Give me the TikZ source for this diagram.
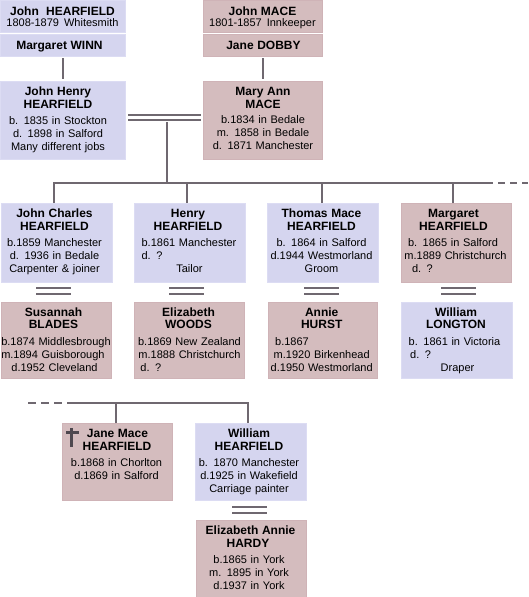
\documentclass[tikz,border=0pt]{standalone}
\usepackage{fontspec}
\setmainfont{Liberation Sans}
\usepackage{calc}
\usetikzlibrary{calc}
\definecolor{mblue}{HTML}{D5D5EF}
\definecolor{mpink}{HTML}{D4BCBE}
\definecolor{mblueedge}{HTML}{DCDCF3}
\definecolor{mpinkedge}{HTML}{CFB3B7}
\definecolor{lnc}{HTML}{6F6870}
\definecolor{crossc}{HTML}{4E484F}
\newcommand\nm[1]{{\fontsize{12}{13}\selectfont\bfseries #1}}
\newcommand\sh[2]{\hspace*{#1}#2\hspace*{-#1}}
\newcommand\lal[3][0pt]{\makebox[\widthof{#2}][l]{\hspace*{#1}#3}}
\tikzset{
  boxbase/.style={anchor=north west, inner sep=0pt, outer sep=0pt, line width=1pt},
  bbox/.style={boxbase, fill=mblue, draw=mblueedge},
  pbox/.style={boxbase, fill=mpink, draw=mpinkedge},
  txt/.style={anchor=base, inner sep=0pt, outer sep=0pt, align=center, text width=130pt,
    font=\fontsize{11}{13}\selectfont},
  conn/.style={draw=lnc, line width=2pt},
  marr/.style={draw=lnc, line width=2pt, double=white, double distance=3pt},
  marrb/.style={marr, double distance=3.7pt},
}
\begin{document}
\begin{tikzpicture}[x=1pt,y=-1pt]
\useasboundingbox (0,0) rectangle (528,597);
% boxes
\node[bbox, minimum width=125pt, minimum height=32pt] (a) at (0,0) {};
\node[bbox, minimum width=125pt, minimum height=22pt] (b) at (0,34) {};
\node[pbox, minimum width=119pt, minimum height=32pt] (c) at (203,0) {};
\node[pbox, minimum width=119pt, minimum height=22pt] (d) at (203,34) {};
\node[bbox, minimum width=125pt, minimum height=78pt] (e) at (0,81) {};
\node[pbox, minimum width=119pt, minimum height=78pt] (f) at (203,81) {};
\node[bbox, minimum width=111pt, minimum height=79pt] (g) at (1,203) {};
\node[bbox, minimum width=111pt, minimum height=79pt] (h) at (134,203) {};
\node[bbox, minimum width=111pt, minimum height=79pt] (i) at (267,203) {};
\node[pbox, minimum width=110pt, minimum height=79pt] (j) at (401,203) {};
\node[pbox, minimum width=110pt, minimum height=76pt] (k) at (1,302) {};
\node[pbox, minimum width=110pt, minimum height=76pt] (l) at (134,302) {};
\node[pbox, minimum width=109pt, minimum height=76pt] (m) at (268,302) {};
\node[bbox, minimum width=111pt, minimum height=76pt] (n) at (401,302) {};
\node[pbox, minimum width=110pt, minimum height=77pt] (o) at (62,423) {};
\node[bbox, minimum width=111pt, minimum height=77pt] (p) at (195,423) {};
\node[pbox, minimum width=110pt, minimum height=77pt] (q) at (196,520) {};
% texts
\node[txt] (a-t) at (62.5,15) {\nm{John\ \ HEARFIELD}\\[-1pt]1808-1879\hspace{5pt}Whitesmith};
\node[txt] (b-t) at (59.5,49.3) {\nm{Margaret WINN}};
\node[txt] (c-t) at (262.5,15) {\nm{John MACE}\\[-1pt]1801-1857\hspace{5pt}Innkeeper};
\node[txt] (d-t) at (263.5,49.3) {\nm{Jane DOBBY}};
\node[txt] (e-t) at (58,95) {\nm{John Henry}\\\nm{HEARFIELD}\\[3.5pt]b. 1835 in Stockton\\d. 1898 in Salford\\Many different jobs};
\node[txt] (f-t) at (263,95) {\nm{Mary Ann}\\\nm{MACE}\\[2pt]b.1834 in Bedale\\m. 1858 in Bedale\\d. 1871 Manchester};
\node[txt] (g-t) at (54.5,217) {\nm{John Charles}\\\nm{HEARFIELD}\\[3.5pt]b.1859 Manchester\\d. 1936 in Bedale\\Carpenter \& joiner};
\node[txt] (h-t) at (189,217) {\sh{-2pt}{\nm{Henry}}\\\sh{-2pt}{\nm{HEARFIELD}}\\[3.5pt]b.1861 Manchester\\\lal{b.1861 Manchester}{d. ?}\\\sh{1pt}{Tailor}};
\node[txt] (i-t) at (321.5,217) {\nm{Thomas Mace}\\\nm{HEARFIELD}\\[3.5pt]b. 1864 in Salford\\d.1944 Westmorland\\Groom};
\node[txt] (j-t) at (454,217) {\sh{-1pt}{\nm{Margaret}}\\\sh{-1pt}{\nm{HEARFIELD}}\\[3.5pt]\sh{-2pt}{b. 1865 in Salford}\\\sh{3pt}{m.1889 Christchurch}\\\lal[3pt]{b. 1865 in Salford}{d. ?}};
\node[txt] (k-t) at (56,316) {\sh{-5pt}{\nm{Susannah}}\\[-0.5pt]\sh{-5pt}{\nm{BLADES}}\\[3.5pt]b.1874 Middlesbrough\\\lal{b.1874 Middlesbrough}{m.1894 Guisborough}\\\sh{-3pt}{d.1952 Cleveland}};
\node[txt] (l-t) at (189.5,316) {\sh{-2pt}{\nm{Elizabeth}}\\[-0.5pt]\sh{-2pt}{\nm{WOODS}}\\[3.5pt]b.1869 New Zealand\\m.1888 Christchurch\\\lal[2pt]{m.1888 Christchurch}{d. ?}};
\node[txt] (m-t) at (321.7,316) {\nm{Annie}\\[-0.5pt]\nm{HURST}\\[3.5pt]\lal[1.5pt]{m.1920 Birkenhead}{b.1867}\\m.1920 Birkenhead\\d.1950 Westmorland};
\node[txt] (n-t) at (456,316) {\nm{William}\\[-0.5pt]\nm{LONGTON}\\[3.5pt]\sh{-3pt}{b. 1861 in Victoria}\\\lal{b. 1861 in Victoria}{d. ?}\\\sh{3pt}{Draper}};
\node[txt] (o-t) at (116.5,437) {\sh{2pt}{\nm{Jane Mace}}\\\sh{1pt}{\nm{HEARFIELD}}\\[3pt]b.1868 in Chorlton\\d.1869 in Salford};
\node[txt] (p-t) at (249,437) {\nm{William}\\\nm{HEARFIELD}\\[3pt]b. 1870 Manchester\\d.1925 in Wakefield\\Carriage painter};
\node[txt] (q-t) at (249,534) {\sh{3pt}{\nm{Elizabeth Annie}}\\\sh{-2pt}{\nm{HARDY}}\\[3.5pt]b.1865 in York\\m. 1895 in York\\d.1937 in York};
% cross
\fill[crossc] (70.2,427.7) rectangle (73.2,446.7);
\fill[crossc] (65.7,431) rectangle (79.3,433.8);
% parents to children
\draw[conn, shorten <=2pt, shorten >=2pt] (b) -- (e);
\draw[conn, shorten <=2pt, shorten >=2pt] (d) -- (f);
% marriage of John Henry and Mary Ann
\draw[marr] ([xshift=3pt,yshift=2.5pt]e.east) -- ([xshift=-2pt,yshift=2.5pt]f.west);
\coordinate (m1) at (167,122);
\coordinate (busR) at (493,183);
\coordinate (busEnd) at (528,183);
\draw[conn] (m1) -- (m1 |- busR);
\draw[conn] ([xshift=-2.5pt]g.north) |- (busR);
\draw[conn] ([xshift=-2.5pt]h.north) -- ++(0,-20);
\draw[conn] ([xshift=-0.5pt]i.north) -- ++(0,-20);
\draw[conn] ([xshift=-3pt]j.north) -- ++(0,-20);
\draw[conn, dash pattern=on 7pt off 5pt, dash phase=7pt] (busR) -- (busEnd);
% spouses
\draw[marrb] ($(g.south)!.5!(k.north)+(-20.25,-1)$) -- ++(35,0);
\draw[marrb] ($(h.south)!.5!(l.north)+(-20.25,-1)$) -- ++(35,0);
\draw[marrb] ($(i.south)!.5!(m.north)+(-18.5,-1)$) -- ++(35,0);
\draw[marrb] ($(j.south)!.5!(n.north)+(-15.25,-1)$) -- ++(35,0);
\draw[marrb] ($(p.south)!.5!(q.north)+(-18.75,0)$) -- ++(35,0);
% second bus
\coordinate (bus2L) at (67.3,402.5);
\coordinate (bus2D) at (28,402.5);
\draw[conn] ([xshift=-2.5pt]p.north) |- (bus2L);
\draw[conn] ([xshift=-1pt]o.north) -- ++(0,-20.5);
\draw[conn, dash pattern=on 7.6pt off 5.5pt] (bus2D) -- (bus2L);
\end{tikzpicture}
\end{document}
